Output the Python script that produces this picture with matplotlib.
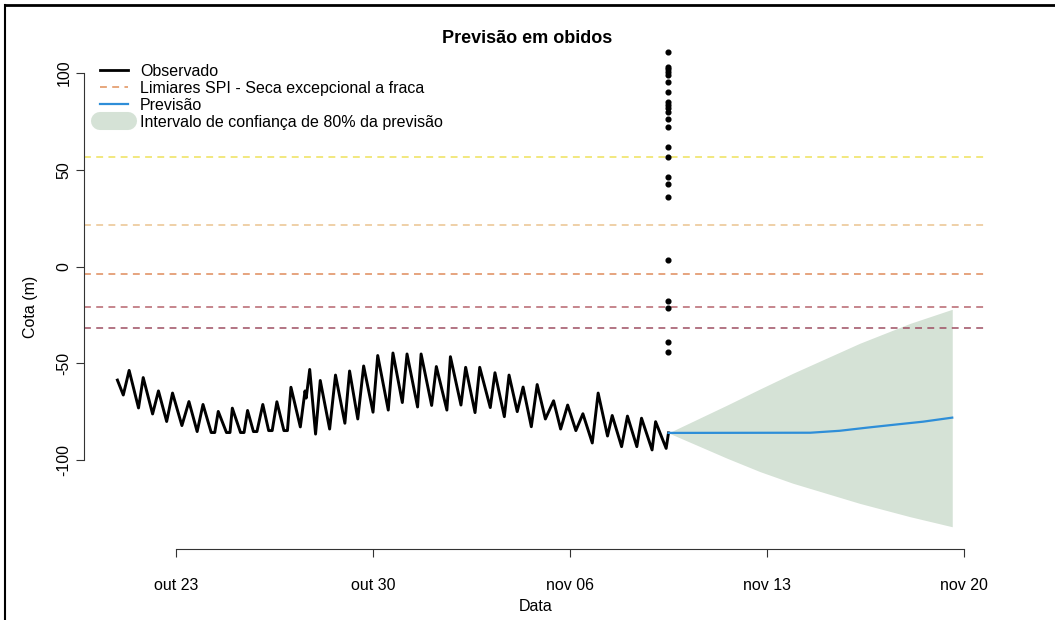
import matplotlib
matplotlib.use('Agg')
import matplotlib.pyplot as plt
import matplotlib.dates as mdates
import pandas as pd
from matplotlib.lines import Line2D

plt.rcParams['font.family'] = ['Liberation Sans', 'DejaVu Sans']

# all times in hours counted from 23 Oct 00:00
base = pd.Timestamp('2023-10-23')

obs_hours = [-50, -45, -40, -32, -28, -20, -15, -8, -3, 5, 11, 18, 23, 30, 33, 36, 43, 46, 48, 55, 58, 61,
             66, 69, 74, 79, 82, 86, 92, 95, 98, 106, 110, 111, 114, 119, 123, 131, 136, 144, 148, 155, 160,
             168, 172, 181, 185, 193, 197, 206, 209, 218, 222, 231, 234, 243, 247, 255, 259, 268, 272, 280,
             284, 291, 296, 303, 308, 315, 322, 328, 334, 341, 347, 355, 360, 368, 372, 380, 385, 393, 397,
             406, 409, 418, 420]
obs_cota = [-58.7, -66.4, -53.7, -73.1, -57.4, -76.2, -64.3, -80.1, -65.4, -82.2, -69.8, -85.3, -71.3,
            -85.8, -85.8, -74.9, -85.8, -85.8, -73.2, -85.8, -85.8, -74.4, -85.3, -85.3, -71.3, -84.8, -84.8,
            -69.9, -84.8, -84.8, -62.4, -82.9, -64.3, -68.0, -53.2, -86.6, -58.9, -84.0, -56.1, -81.0, -54.0,
            -78.8, -51.4, -75.3, -46.0, -74.2, -44.7, -70.3, -45.2, -72.6, -45.2, -71.8, -51.7, -74.2, -46.6,
            -71.6, -52.1, -75.5, -52.1, -72.9, -54.9, -77.6, -56.1, -75.0, -62.3, -82.8, -61.0, -78.8, -69.4,
            -84.0, -71.6, -84.8, -76.1, -91.2, -65.4, -87.6, -77.0, -93.1, -77.3, -93.1, -78.4, -94.8, -80.2,
            -94.0, -86.0]

fc_hours = [420, 541, 566, 589, 615, 637, 662]
fc_cota = [-86.0, -85.9, -84.9, -83.3, -81.6, -80.2, -78.1]

band_hours = [420, 470, 498, 526, 583, 626, 662]
band_upper = [-86.0, -71.6, -63.3, -55.2, -39.7, -29.4, -22.1]
band_lower = [-86.0, -99.1, -106.0, -112.0, -122.4, -129.3, -134.5]

dots_hour = 420
dots_cota = [110.8, 103.1, 102.1, 100.5, 99.0, 95.3, 90.2, 85.0, 83.5, 81.9, 79.8, 76.2, 72.1,
             61.8, 56.6, 46.1, 42.6, 35.9, 3.4, -17.8, -21.4, -39.0, -44.2]

limiares = [56.6, 21.4, -3.9, -20.9, -31.8]
limiar_cores = ['#EFE25B', '#EBC38F', '#DF8B5B', '#B6646E', '#9E4E62']

tick_dates = ['2023-10-23', '2023-10-30', '2023-11-06', '2023-11-13', '2023-11-20']
tick_labels = ['out 23', 'out 30', 'nov 06', 'nov 13', 'nov 20']
y_ticks = [-100, -50, 0, 50, 100]

def to_time(h):
    return base + pd.to_timedelta(h, unit='h')

blue = '#2E8ED8'
band_col = '#D5E2D6'
fs = 11.5

fig = plt.figure(figsize=(10.55, 6.2), dpi=100)
ax = fig.add_axes([84/1055, 1-549/620, (988-84)/1055, (549-33)/620])

for v, c in zip(limiares, limiar_cores):
    ax.axhline(v, color=c, lw=1.1, ls=(0, (4.5, 3.5)))

ax.fill_between(to_time(band_hours), band_lower, band_upper, color=band_col, lw=0)
ax.plot(to_time(obs_hours), obs_cota, color='black', lw=2.1)
ax.plot(to_time(fc_hours), fc_cota, color=blue, lw=1.6)
ax.plot([to_time(dots_hour)]*len(dots_cota), dots_cota, 'o', color='black', ms=3.4, ls='none')

ax.set_xlim(to_time(-78.5), to_time(692.5))
ax.set_ylim(-146.0, 120.7)

tick_pos = mdates.date2num(pd.to_datetime(tick_dates))
for s in ['top', 'right']:
    ax.spines[s].set_visible(False)
ax.spines['left'].set_bounds(-100, 100)
ax.spines['bottom'].set_bounds(tick_pos[0], tick_pos[-1])
ax.spines['left'].set_color('#333333')
ax.spines['bottom'].set_color('#333333')

ax.set_xticks(tick_pos)
ax.set_xticklabels(tick_labels, fontsize=fs)
ax.set_yticks(y_ticks)
ax.set_yticklabels([str(v) for v in y_ticks], fontsize=fs, rotation=90, va='center')
ax.tick_params(axis='x', length=6, pad=15, color='#333333')
ax.tick_params(axis='y', length=6, pad=3, color='#333333')

ax.set_xlabel('Data', fontsize=fs, labelpad=4)
ax.set_ylabel('Cota (m)', fontsize=fs)
ax.yaxis.set_label_coords(-0.051, 0.47)
ax.text(0.49, 0.99, 'Previsão em obidos', transform=ax.transAxes, ha='center', va='center',
        fontsize=13, fontweight='bold')

handles = [Line2D([], [], color='black', lw=2),
           Line2D([], [], color='#E0905A', lw=1.1, ls=(0, (4.5, 3.5))),
           Line2D([], [], color=blue, lw=1.6),
           Line2D([], [], color=band_col, lw=13, solid_capstyle='round')]
labels = ['Observado', 'Limiares SPI - Seca excepcional a fraca', 'Previsão',
          'Intervalo de confiança de 80% da previsão']
ax.legend(handles, labels, loc='upper left', bbox_to_anchor=(0.0177, 0.940), frameon=False,
          fontsize=fs, handlelength=1.75, handletextpad=0.75, labelspacing=0.12, borderpad=0,
          borderaxespad=0)

# frame of the original image: top and left edges only
fig.add_artist(Line2D([5/1055, 1], [1-5/620, 1-5/620], transform=fig.transFigure, color='black', lw=2))
fig.add_artist(Line2D([5/1055, 5/1055], [0, 1-5/620], transform=fig.transFigure, color='black', lw=1.5))

fig.savefig('out.png', dpi=100)
